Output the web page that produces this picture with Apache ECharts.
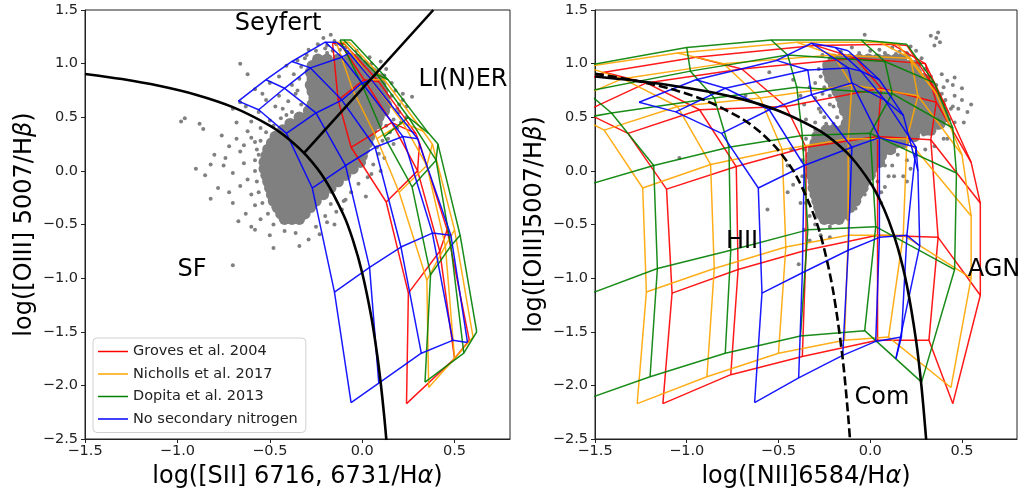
<!doctype html>
<html>
<head>
<meta charset="UTF-8">
<title>BPT diagrams</title>
<style>
  html, body { margin: 0; padding: 0; background: #fff; }
  #main { width: 1018px; height: 495px; }
</style>
</head>
<body>
<div id="main"></div>
<script src="https://cdn.jsdelivr.net/npm/echarts@6/dist/echarts.min.js"></script>
<script>
// tick labels
var xTicks = [-1.5, -1.0, -0.5, 0.0, 0.5];
var yTicks = [-2.5, -2.0, -1.5, -1.0, -0.5, 0.0, 0.5, 1.0, 1.5];

// demarcation lines
var kewleySII = [[-1.5,0.904],[-1.3,0.856],[-1.1,0.793],[-0.9,0.71],[-0.7,0.594],[-0.5,0.422],[-0.4,0.30],
  [-0.3,0.139],[-0.2,-0.085],[-0.1,-0.414],[-0.05,-0.646],[0.0,-0.95],[0.05,-1.367],[0.08,-1.7],[0.1,-1.973],[0.12,-2.3],[0.131,-2.51]];
var seyfertLiner = [[-0.315,0.165],[0.385,1.5]];
var kewleyNII = [[-1.5,0.88],[-1.3,0.845],[-1.1,0.801],[-0.9,0.745],[-0.7,0.669],[-0.5,0.561],[-0.3,0.398],[-0.2,0.28],
  [-0.1,0.12],[0.0,-0.108],[0.05,-0.262],[0.1,-0.459],[0.15,-0.716],[0.2,-1.069],[0.25,-1.583],[0.28,-2.021],[0.305,-2.507]];
var kauffNII = [[-1.5,0.906],[-1.3,0.848],[-1.1,0.77],[-0.9,0.658],[-0.7,0.487],[-0.6,0.362],[-0.5,0.191],[-0.4,-0.056],
  [-0.3,-0.443],[-0.25,-0.733],[-0.2,-1.14],[-0.15,-1.75],[-0.12,-2.288],[-0.11,-2.51]];

// galaxies, [SII] panel: loose points
var leftPts = [
 [-0.21,1.24],[-0.17,1.27],[-0.14,1.18],[-0.25,1.12],[-0.09,1.15],[-0.3,1.08],[-0.19,1.1],[-0.06,1.08],[-0.35,1.03],
 [-0.24,1.18],[-0.19,1.17],[-0.15,1.21],[-0.11,1.18],[-0.29,1.13],[-0.2,1.14],[-0.16,1.12],[-0.12,1.13],[-0.08,1.11],[-0.03,1.12],
 [-0.41,0.98],[0.05,1.0],[0.08,0.93],[0.12,0.89],[-0.45,0.88],[-0.5,0.82],[-0.58,0.76],[-0.62,0.9],[-0.66,1.0],[0.22,0.66],
 [0.27,0.69],[-0.47,0.6],[-0.52,0.66],[-0.56,0.55],[-0.63,0.6],[-0.7,0.58],[-0.5,0.47],[-0.55,0.4],[-0.62,0.37],[-0.68,0.45],
 [-0.76,0.33],[-0.98,0.46],[-0.96,0.49],[-0.88,0.44],[-0.86,0.39],[-0.58,0.27],[-0.66,0.18],[-0.72,0.23],[-0.8,0.15],[-0.75,0.05],
 [-0.7,-0.02],[-0.64,0.07],[-0.85,-0.04],[-0.82,0.06],[-0.9,0.02],[-0.62,-0.08],[-0.78,-0.16],[-0.72,-0.2],[-0.66,-0.14],[-0.6,-0.22],
 [-0.82,-0.26],[-0.7,-0.3],[-0.58,-0.32],[-0.63,-0.4],[-0.55,-0.45],[-0.58,-0.55],[-0.5,-0.6],[-0.42,-0.56],[-0.36,-0.58],[-0.29,-0.64],
 [-0.23,-0.59],[-0.2,-0.42],[-0.15,-0.5],[-0.6,-0.52],[-0.67,-0.47],[-0.34,-0.7],[-0.48,-0.72],[-0.7,-0.88],[-0.17,-0.31],[-0.11,-0.36],
 [-0.09,-0.27],[0.02,-0.24],[0.05,-0.03],[0.1,0.0],[0.08,0.22],[0.14,0.3],[0.12,0.12],[0.15,0.36],[0.17,0.25],[0.19,0.4],
 [0.2,0.55],[0.2,0.62],[0.24,0.5],[0.18,0.75],[0.16,0.82],[-0.36,0.72],[-0.4,0.65],[-0.38,0.8],[-0.43,0.58],[-0.37,0.9],
 [-0.6,0.31],[-0.56,0.15],[-0.64,0.24],[-0.74,0.12],[-0.68,0.3],[-0.6,0.46],[-0.66,0.64],[-0.54,0.72],[-0.45,0.7],[-0.41,0.52],
 [0.16,0.7],[0.19,0.58],[0.17,0.48],[0.13,0.42],[0.11,0.28],[0.09,0.16],[0.06,0.06],[0.03,-0.06],[-0.02,-0.12],[-0.06,-0.2],
 [-0.1,-0.28],[-0.14,-0.38],[-0.19,-0.48],[-0.25,-0.52],[0.13,0.95],[0.1,1.02],[0.04,1.06],[0.22,0.72],[0.24,0.6],[0.21,0.45],
 [-0.33,0.62],[-0.35,0.75],[-0.34,0.86],[-0.33,0.97],[-0.31,1.05],[-0.38,0.55],[-0.44,0.49],[-0.48,0.42],[-0.52,0.36],[-0.55,0.28],
 [-0.57,0.2],[-0.58,0.1],[-0.58,0.0],[-0.57,-0.1],[-0.56,-0.2],[-0.54,-0.3],[-0.51,-0.4],[-0.48,-0.5]
];
// galaxies, [SII] panel: dense body, one row per log([OIII]/Hb) level
var leftRows = [
 [1.04, [-0.24,-0.19,-0.13,-0.07,-0.03]],
 [0.98, [-0.27,-0.23,-0.18,-0.13,-0.08,-0.03,0.01]],
 [0.92, [-0.28,-0.24,-0.19,-0.14,-0.09,-0.04,0.01,0.05]],
 [0.86, [-0.27,-0.23,-0.18,-0.13,-0.08,-0.03,0.02,0.07,0.09]],
 [0.8, [-0.28,-0.24,-0.19,-0.14,-0.09,-0.04,0.01,0.06,0.1]],
 [0.74, [-0.27,-0.23,-0.18,-0.13,-0.08,-0.03,0.02,0.07,0.11]],
 [0.68, [-0.26,-0.22,-0.17,-0.12,-0.07,-0.02,0.03,0.08,0.12]],
 [0.62, [-0.27,-0.23,-0.18,-0.13,-0.08,-0.03,0.02,0.07,0.12,0.13]],
 [0.56, [-0.29,-0.25,-0.2,-0.15,-0.1,-0.05,0.0,0.05,0.1,0.12]],
 [0.5, [-0.34,-0.3,-0.25,-0.2,-0.15,-0.1,-0.05,0.0,0.05,0.09]],
 [0.44, [-0.39,-0.35,-0.3,-0.25,-0.2,-0.15,-0.1,-0.05,0.0,0.05,0.08]],
 [0.38, [-0.43,-0.39,-0.34,-0.29,-0.24,-0.19,-0.14,-0.09,-0.04,0.01,0.05]],
 [0.32, [-0.47,-0.43,-0.38,-0.33,-0.28,-0.23,-0.18,-0.13,-0.08,-0.03,0.02,0.04]],
 [0.26, [-0.49,-0.45,-0.4,-0.35,-0.3,-0.25,-0.2,-0.15,-0.1,-0.05,0.0,0.03]],
 [0.2, [-0.51,-0.47,-0.42,-0.37,-0.32,-0.27,-0.22,-0.17,-0.12,-0.07,-0.02,0.01]],
 [0.14, [-0.52,-0.48,-0.43,-0.38,-0.33,-0.28,-0.23,-0.18,-0.13,-0.08,-0.03,0.0]],
 [0.08, [-0.53,-0.49,-0.44,-0.39,-0.34,-0.29,-0.24,-0.19,-0.14,-0.09,-0.04,-0.01]],
 [0.02, [-0.53,-0.49,-0.44,-0.39,-0.34,-0.29,-0.24,-0.19,-0.14,-0.09,-0.05]],
 [-0.04, [-0.52,-0.48,-0.43,-0.38,-0.33,-0.28,-0.23,-0.18,-0.13,-0.09]],
 [-0.1, [-0.51,-0.47,-0.42,-0.37,-0.32,-0.27,-0.22,-0.17,-0.13]],
 [-0.16, [-0.5,-0.46,-0.41,-0.36,-0.31,-0.26,-0.21,-0.17]],
 [-0.22, [-0.49,-0.45,-0.4,-0.35,-0.3,-0.25,-0.21]],
 [-0.28, [-0.48,-0.44,-0.39,-0.34,-0.29,-0.25]],
 [-0.34, [-0.46,-0.42,-0.37,-0.32,-0.28]],
 [-0.4, [-0.44,-0.4,-0.35,-0.31]],
 [-0.45, [-0.42,-0.38,-0.34]]
];

// galaxies, [NII] panel: loose points
var rightPts = [
 [-0.03,1.27],[0.37,1.29],[0.36,1.24],[0.38,1.2],[0.35,1.17],[0.33,1.26],[0.28,1.05],[0.25,1.12],[-0.25,1.0],[-0.18,1.02],
 [-0.16,1.11],[-0.1,1.15],[-0.06,1.1],[0.0,1.12],[0.05,1.13],[0.08,1.1],[0.12,1.15],[0.16,1.11],[0.2,1.1],[0.22,1.16],
 [-0.3,0.82],[-0.42,0.85],[-0.55,0.92],[0.4,0.78],[0.45,0.8],[0.5,0.77],[0.39,0.9],[0.46,0.87],[0.42,0.84],[-0.68,0.7],
 [0.53,0.55],[0.48,0.58],[0.51,0.45],[0.55,0.62],[0.5,0.66],[0.46,0.7],[0.42,0.3],[0.35,0.23],[0.2,0.1],[0.13,-0.05],[0.2,-0.1],
 [-0.42,-0.13],[-0.38,-0.3],[-0.56,-0.36],[-0.33,-0.65],[-0.36,-0.55],[-1.04,0.12],[-0.39,-0.87],[-0.45,0.05],[-0.43,0.2],
 [-0.3,0.45],[-0.25,0.5],[-0.28,0.58],[-0.22,0.62],[-0.3,0.68],[-0.26,0.72],[-0.33,0.78],[-0.24,0.44],[-0.27,0.55],
 [-0.36,0.62],[-0.38,0.7],[-0.35,0.48],[-0.45,-0.2],[-0.27,-0.6],[-0.22,-0.62],[0.06,-0.2],[0.1,-0.05],[0.22,0.02],[0.25,0.15],
 [0.3,0.2],[0.08,-0.15],[0.12,0.05],[0.15,0.15],[0.1,0.2],[0.06,-0.3],[0.18,-0.05],[0.42,0.55],[0.45,0.6],[0.46,0.45],[0.4,0.3],
 [-0.26,1.08],[-0.28,0.95],[-0.27,0.88],[-0.25,0.78],[-0.22,0.7],[-0.2,0.6],[-0.18,0.5],[-0.2,0.44],[-0.3,0.38],[-0.35,0.3],
 [-0.36,0.2],[-0.37,0.1],[-0.37,-0.05],[-0.36,-0.18],[-0.35,-0.3],[-0.33,-0.42],[-0.3,-0.5],[-0.22,-0.52],[-0.12,-0.45],[-0.08,-0.35],
 [-0.03,-0.22],[0.04,-0.1],[0.08,0.05],[0.13,0.18],[0.21,0.28],[0.29,0.34],[0.37,0.4],[0.43,0.48],[0.44,0.58],[0.41,0.66],
 [0.39,0.72],[0.36,0.8],[0.33,0.88],[0.3,0.95],[0.27,1.0],[0.21,1.07],[0.14,1.09]
];
// galaxies, [NII] panel: dense body, one row per log([OIII]/Hb) level
var rightRows = [
 [1.04, [-0.2,-0.16,-0.11,-0.06,-0.01,0.04,0.09,0.14,0.17]],
 [0.98, [-0.23,-0.19,-0.14,-0.09,-0.04,0.01,0.06,0.11,0.16,0.21,0.24]],
 [0.92, [-0.23,-0.19,-0.14,-0.09,-0.04,0.01,0.06,0.11,0.16,0.21,0.25]],
 [0.86, [-0.22,-0.18,-0.13,-0.08,-0.03,0.02,0.07,0.12,0.17,0.22,0.27,0.29]],
 [0.8, [-0.2,-0.16,-0.11,-0.06,-0.01,0.04,0.09,0.14,0.19,0.24,0.29,0.32]],
 [0.74, [-0.18,-0.14,-0.09,-0.04,0.01,0.06,0.11,0.16,0.21,0.26,0.31,0.34]],
 [0.68, [-0.16,-0.12,-0.07,-0.02,0.03,0.08,0.13,0.18,0.23,0.28,0.33,0.36]],
 [0.62, [-0.15,-0.11,-0.06,-0.01,0.04,0.09,0.14,0.19,0.24,0.29,0.34,0.38]],
 [0.56, [-0.14,-0.1,-0.05,0.0,0.05,0.1,0.15,0.2,0.25,0.3,0.35,0.39]],
 [0.5, [-0.12,-0.08,-0.03,0.02,0.07,0.12,0.17,0.22,0.27,0.32,0.37,0.4]],
 [0.44, [-0.13,-0.09,-0.04,0.01,0.06,0.11,0.16,0.21,0.26,0.31,0.35,0.38]],
 [0.38, [-0.24,-0.2,-0.15,-0.1,-0.05,0.0,0.05,0.1,0.15,0.2,0.25,0.3,0.33]],
 [0.32, [-0.29,-0.25,-0.2,-0.15,-0.1,-0.05,0.0,0.05,0.1,0.15,0.2,0.24]],
 [0.26, [-0.3,-0.26,-0.21,-0.16,-0.11,-0.06,-0.01,0.04,0.09,0.14,0.18]],
 [0.2, [-0.31,-0.27,-0.22,-0.17,-0.12,-0.07,-0.02,0.03,0.08,0.11]],
 [0.14, [-0.32,-0.28,-0.23,-0.18,-0.13,-0.08,-0.03,0.02,0.06]],
 [0.08, [-0.32,-0.28,-0.23,-0.18,-0.13,-0.08,-0.03,0.02,0.05]],
 [0.02, [-0.32,-0.28,-0.23,-0.18,-0.13,-0.08,-0.03,0.01]],
 [-0.04, [-0.32,-0.28,-0.23,-0.18,-0.13,-0.08,-0.03,0.0]],
 [-0.1, [-0.31,-0.27,-0.22,-0.17,-0.12,-0.07,-0.03]],
 [-0.16, [-0.31,-0.27,-0.22,-0.17,-0.12,-0.07,-0.04]],
 [-0.22, [-0.3,-0.26,-0.21,-0.16,-0.11,-0.07]],
 [-0.28, [-0.29,-0.25,-0.2,-0.15,-0.11,-0.08]],
 [-0.34, [-0.28,-0.24,-0.19,-0.14,-0.11]],
 [-0.4, [-0.27,-0.23,-0.18,-0.14]],
 [-0.45, [-0.25,-0.21,-0.17]]
];

// model grids: each column is one track, nodes of the same index join into rows
var grovesSII = [
 [[-0.16,1.19],[-0.13,0.66],[-0.06,0.22],[0.13,-0.29],[0.25,-1.14],[0.24,-2.17]],
 [[-0.12,1.19],[0.01,0.85],[0.16,0.45],[0.3,0.0],[0.42,-0.75],[0.5,-1.75]],
 [[-0.1,1.19],[0.09,0.83],[0.29,0.35],[0.31,0.26],[0.46,-0.55],[0.58,-1.58]]
];
var nichollsSII = [
 [[-0.14,1.2],[-0.05,0.75],[0.08,0.3],[0.2,-0.2],[0.35,-1.02],[0.36,-2.02]],
 [[-0.1,1.2],[0.05,0.85],[0.22,0.45],[0.35,0.05],[0.45,-0.7],[0.5,-1.75]],
 [[-0.07,1.2],[0.12,0.85],[0.33,0.37],[0.38,0.25],[0.5,-0.55],[0.6,-1.55]]
];
var dopitaSII = [
 [[-0.12,1.22],[0.0,0.8],[0.12,0.32],[0.27,-0.15],[0.37,-0.97],[0.34,-1.97]],
 [[-0.1,1.22],[0.08,0.9],[0.25,0.5],[0.4,0.1],[0.48,-0.7],[0.55,-1.7]],
 [[-0.06,1.22],[0.14,0.85],[0.36,0.35],[0.41,0.25],[0.53,-0.6],[0.62,-1.5]]
];
var noSecSII = [
 [[-0.67,0.65],[-0.56,0.57],[-0.41,0.35],[-0.27,-0.16],[-0.15,-1.13],[-0.06,-2.16]],
 [[-0.52,0.85],[-0.42,0.77],[-0.25,0.54],[-0.09,0.05],[0.04,-0.9],[0.09,-1.98]],
 [[-0.38,1.02],[-0.28,0.96],[-0.11,0.66],[0.07,0.22],[0.21,-0.71],[0.32,-1.7]],
 [[-0.2,1.2],[-0.11,1.06],[0.0,0.82],[0.22,0.32],[0.38,-0.58],[0.49,-1.58]],
 [[-0.14,1.2],[-0.07,1.1],[0.05,0.85],[0.3,0.3],[0.48,-0.6],[0.57,-1.6]]
];

var grovesNII = [
 [[-1.76,0.66],[-1.56,0.55],[-1.32,0.35],[-1.11,-0.17],[-1.08,-1.14],[-1.13,-2.17]],
 [[-1.45,0.92],[-1.22,0.82],[-0.93,0.57],[-0.73,0.04],[-0.72,-0.92],[-0.76,-1.9]],
 [[-0.95,1.06],[-0.7,0.95],[-0.46,0.6],[-0.35,0.22],[-0.35,-0.74],[-0.37,-1.73]],
 [[-0.3,1.17],[-0.08,1.05],[0.06,0.77],[0.04,0.32],[0.04,-0.6],[0.04,-1.58]],
 [[0.12,1.18],[0.3,1.0],[0.36,0.64],[0.33,0.29],[0.37,-0.62],[0.32,-1.58]],
 [[0.2,1.17],[0.41,0.61],[0.55,0.08],[0.6,-0.3],[0.6,-1.16],[0.45,-2.17]]
];
var nichollsNII = [
 [[-1.9,0.72],[-1.7,0.6],[-1.45,0.38],[-1.24,-0.16],[-1.22,-1.13],[-1.27,-2.17]],
 [[-1.55,0.97],[-1.35,0.86],[-1.05,0.6],[-0.87,0.06],[-0.85,-0.91],[-0.89,-1.92]],
 [[-1.05,1.1],[-0.8,1.0],[-0.6,0.68],[-0.48,0.2],[-0.46,-0.71],[-0.5,-1.7]],
 [[-0.4,1.2],[-0.2,1.08],[-0.1,0.8],[-0.12,0.3],[-0.12,-0.6],[-0.14,-1.58]],
 [[0.05,1.2],[0.22,1.05],[0.26,0.7],[0.2,0.3],[0.18,-0.6],[0.1,-1.55]],
 [[0.15,1.18],[0.36,0.72],[0.5,0.15],[0.55,-0.42],[0.55,-1.0],[0.44,-2.02]]
];
var dopitaNII = [
 [[-2.0,0.85],[-1.85,0.7],[-1.7,0.45],[-1.6,-0.16],[-1.55,-1.16],[-1.6,-2.16]],
 [[-1.75,0.92],[-1.55,0.74],[-1.41,0.54],[-1.18,0.05],[-1.16,-0.91],[-1.2,-1.92]],
 [[-1.0,1.15],[-0.98,0.93],[-0.85,0.68],[-0.77,0.22],[-0.76,-0.74],[-0.79,-1.7]],
 [[-0.54,1.22],[-0.45,1.08],[-0.4,0.78],[-0.37,0.33],[-0.34,-0.55],[-0.38,-1.54]],
 [[-0.05,1.22],[0.08,1.02],[0.12,0.72],[0.0,0.35],[0.03,-0.52],[-0.03,-1.49]],
 [[0.2,1.18],[0.35,0.82],[0.45,0.4],[0.47,-0.02],[0.46,-0.92],[0.28,-1.97]]
];
var noSecNII = [
 [[-1.26,0.64],[-1.06,0.55],[-0.81,0.35],[-0.61,-0.16],[-0.59,-1.14],[-0.63,-2.16]],
 [[-0.95,0.85],[-0.79,0.77],[-0.55,0.57],[-0.36,0.05],[-0.37,-0.95],[-0.39,-1.93]],
 [[-0.51,1.03],[-0.34,0.94],[-0.32,0.71],[-0.1,0.22],[-0.12,-0.74],[-0.15,-1.72]],
 [[-0.32,1.19],[-0.12,0.96],[-0.1,0.82],[0.05,0.31],[0.05,-0.62],[0.03,-1.59]],
 [[-0.19,1.15],[-0.05,0.93],[0.08,0.66],[0.25,0.22],[0.2,-0.6],[0.17,-1.55]],
 [[-0.12,1.12],[0.05,0.85],[0.18,0.52],[0.26,0.0],[0.27,-0.7],[0.14,-1.75]]
];

var models = [
  { name: 'Groves et al. 2004', color: '#ff0000', grids: [grovesSII, grovesNII] },
  { name: 'Nicholls et al. 2017', color: '#ffa500', grids: [nichollsSII, nichollsNII] },
  { name: 'Dopita et al. 2013', color: '#008000', grids: [dopitaSII, dopitaNII] },
  { name: 'No secondary nitrogen', color: '#0000ff', grids: [noSecSII, noSecNII] }
];

var FONT = 'DejaVu Sans';

function tickFmt(v) {
  return (v < 0 ? '\u2212' : '') + Math.abs(v).toFixed(1);
}

function xAxisFor(i, title) {
  return {
    type: 'value', gridIndex: i, min: -1.5, max: 0.8,
    name: title, nameLocation: 'middle', nameGap: 26,
    nameTextStyle: { fontFamily: FONT, fontSize: 24, color: '#000',
      rich: { i: { fontFamily: FONT, fontSize: 24, fontStyle: 'italic', color: '#000' } } },
    axisLine: { show: true, onZero: false, lineStyle: { color: '#222', width: 1 } },
    axisTick: { show: true, length: 4, customValues: xTicks, lineStyle: { color: '#222' } },
    axisLabel: { customValues: xTicks, formatter: tickFmt, margin: 5, fontFamily: FONT, fontSize: 14.5, color: '#222' },
    splitLine: { show: false }
  };
}

function yAxisFor(i, title) {
  return {
    type: 'value', gridIndex: i, min: -2.5, max: 1.5, interval: 0.5,
    name: title, nameLocation: 'middle', nameGap: 48, nameRotate: 90,
    nameTextStyle: { fontFamily: FONT, fontSize: 24, color: '#000',
      rich: { i: { fontFamily: FONT, fontSize: 24, fontStyle: 'italic', color: '#000' } } },
    axisLine: { show: true, onZero: false, lineStyle: { color: '#222', width: 1 } },
    axisTick: { show: true, length: 4, lineStyle: { color: '#222' } },
    axisLabel: { formatter: tickFmt, margin: 7, fontFamily: FONT, fontSize: 14.5, color: '#222' },
    splitLine: { show: false }
  };
}

function rowsToPoints(rows) {
  var out = [];
  rows.forEach(function (r) {
    r[1].forEach(function (x) { out.push([x, r[0]]); });
  });
  return out;
}

var series = [];

// dense body first, loose points on top
[[rowsToPoints(leftRows), 0, 11.5], [rowsToPoints(rightRows), 1, 11.5], [leftPts, 0, 4], [rightPts, 1, 4]].forEach(function (s) {
  series.push({
    type: 'scatter', xAxisIndex: s[1], yAxisIndex: s[1], data: s[0],
    symbol: 'circle', symbolSize: s[2],
    itemStyle: { color: '#808080', opacity: 1, borderWidth: 0, borderColor: 'transparent' },
    emphasis: { disabled: true }, silent: true, z: 2
  });
});

models.forEach(function (m) {
  m.grids.forEach(function (cols, i) {
    var rows = cols[0].map(function (_, r) {
      return cols.map(function (c) { return c[r]; });
    });
    cols.concat(rows).forEach(function (track) {
      series.push({
        type: 'line', name: m.name, xAxisIndex: i, yAxisIndex: i, data: track,
        symbol: 'none', showSymbol: false, clip: true, silent: true, z: 3,
        itemStyle: { color: m.color },
        lineStyle: { color: m.color, width: 1.5, opacity: 0.9 }
      });
    });
  });
});

[[kewleySII, 0, 'solid'], [seyfertLiner, 0, 'solid'], [kewleyNII, 1, 'solid'], [kauffNII, 1, [9, 4]]].forEach(function (c) {
  series.push({
    type: 'line', xAxisIndex: c[1], yAxisIndex: c[1], data: c[0], smooth: 0.3,
    symbol: 'none', showSymbol: false, clip: true, silent: true, z: 4,
    lineStyle: { color: '#000', width: 2.6, type: c[2] }
  });
});

function label(x, y, text) {
  return { type: 'text', x: x, y: y, z: 10,
    style: { text: text, fontFamily: FONT, fontSize: 24, fill: '#000', align: 'center', verticalAlign: 'middle' } };
}

var chart = echarts.init(document.getElementById('main'), null, { renderer: 'canvas' });
chart.setOption({
  animation: false,
  backgroundColor: '#fff',
  grid: [
    { left: 85, top: 10, width: 425, height: 429, show: true, borderColor: '#222', borderWidth: 1, backgroundColor: 'transparent' },
    { left: 595, top: 10, width: 422, height: 429, show: true, borderColor: '#222', borderWidth: 1, backgroundColor: 'transparent' }
  ],
  xAxis: [xAxisFor(0, 'log([SII] 6716, 6731/H{i|\u03b1})'), xAxisFor(1, 'log([NII]6584/H{i|\u03b1})')],
  yAxis: [yAxisFor(0, 'log([OIII] 5007/H{i|\u03b2})'), yAxisFor(1, 'log([OIII]5007/H{i|\u03b2})')],
  legend: {
    data: models.map(function (m) { return m.name; }),
    orient: 'vertical', left: 93, top: 338, icon: 'rect', itemWidth: 30, itemHeight: 1.5,
    itemGap: 5.5, itemTextGap: 11, padding: [5, 8, 5, 5],
    backgroundColor: 'rgba(255,255,255,0.85)', borderColor: '#d0d0d0', borderWidth: 1, borderRadius: 4,
    textStyle: { fontFamily: FONT, fontSize: 14.5, lineHeight: 17, color: '#222' },
    selectedMode: false
  },
  graphic: [
    label(278, 24, 'Seyfert'),
    label(463, 80, 'LI(N)ER'),
    label(192, 270, 'SF'),
    label(742, 242, 'HII'),
    label(994, 270, 'AGN'),
    label(882, 398, 'Com')
  ],
  series: series
});
</script>
</body>
</html>
